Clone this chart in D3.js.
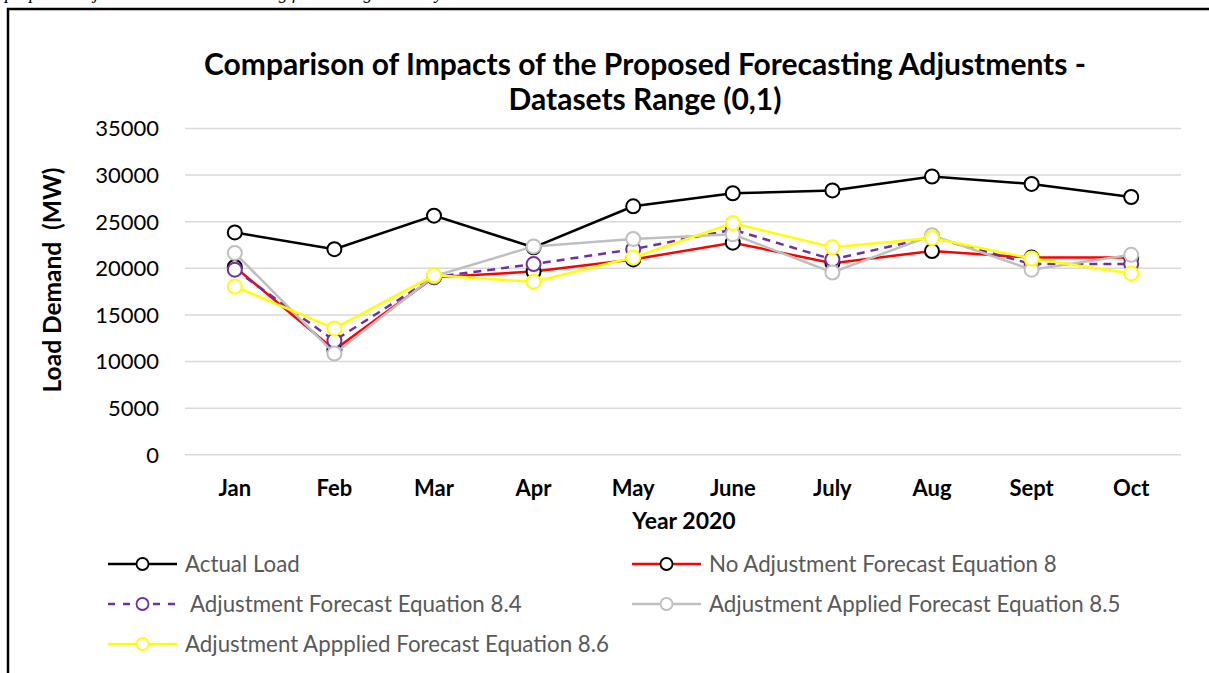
<!DOCTYPE html>
<html>
<head>
<meta charset="utf-8">
<script src="https://cdn.jsdelivr.net/npm/d3@7"></script>
<style>
  body { margin: 0; background: #fff; }
  svg { display: block; }
</style>
</head>
<body>
<div id="chart"></div>
<script>
// values
var months = ["Jan", "Feb", "Mar", "Apr", "May", "June", "July", "Aug", "Sept", "Oct"];
var actualLoad = [23800, 22000, 25600, 22200, 26600, 28000, 28300, 29800, 29000, 27600];
var noAdjEq8 = [20100, 11200, 19000, 19600, 20900, 22700, 20500, 21800, 21100, 21100];
var adjEq84 = [19800, 12200, 19000, 20400, 22000, 24100, 20900, 23300, 20400, 20400];
var adjEq85 = [21600, 10800, 19100, 22300, 23100, 23600, 19500, 23500, 19800, 21400];
var adjEq86 = [18000, 13500, 19200, 18500, 21100, 24800, 22200, 23200, 21000, 19400];
var yTicks = [0, 5000, 10000, 15000, 20000, 25000, 30000, 35000];

var seriesNames = [
    "Actual Load",
    "No Adjustment Forecast Equation 8",
    "Adjustment Forecast Equation 8.4",
    "Adjustment Applied Forecast Equation 8.5",
    "Adjustment Appplied Forecast Equation 8.6"
];

var width = 1209, height = 673;
var font = "Lato, 'Open Sans', sans-serif";

var series = [
    { name: seriesNames[0], values: actualLoad, color: "#000000", marker: "#000000", dash: null },
    { name: seriesNames[1], values: noAdjEq8, color: "#ff0000", marker: "#000000", dash: null },
    { name: seriesNames[2], values: adjEq84, color: "#7030a0", marker: "#7030a0", dash: "8,6" },
    { name: seriesNames[3], values: adjEq85, color: "#bfbfbf", marker: "#bfbfbf", dash: null },
    { name: seriesNames[4], values: adjEq86, color: "#ffff00", marker: "#ffff00", dash: null }
];

var svg = d3.select("#chart")
    .append("svg")
    .attr("width", width)
    .attr("height", height);

// cut-off caption line above the frame
svg.append("text")
    .attr("x", 5)
    .attr("y", -1)
    .attr("font-family", "'Liberation Serif', serif")
    .attr("font-style", "italic")
    .attr("font-size", 18)
    .text("proposed adjustments and the resulting forecasting accuracy");

// frame (right and bottom edges fall outside the picture)
svg.append("rect")
    .attr("x", 8)
    .attr("y", 9)
    .attr("width", width + 20)
    .attr("height", height + 20)
    .attr("fill", "none")
    .attr("stroke", "#000")
    .attr("stroke-width", 2.5);

var plot = { left: 185, right: 1181, top: 128, bottom: 454.3 };

var x = d3.scaleBand()
    .domain(months)
    .range([plot.left, plot.right]);

var y = d3.scaleLinear()
    .domain([0, 35000])
    .range([plot.bottom, plot.top]);

// y axis + gridlines
var yAxis = svg.append("g")
    .attr("transform", `translate(${plot.left},0)`)
    .call(d3.axisLeft(y)
        .tickValues(yTicks)
        .tickFormat(d3.format("d"))
        .tickSize(-(plot.right - plot.left))
        .tickPadding(26));
yAxis.select(".domain").remove();
yAxis.selectAll(".tick line")
    .attr("stroke", "#d9d9d9")
    .attr("stroke-width", 1.5);
yAxis.selectAll(".tick text")
    .attr("font-family", font)
    .attr("font-size", 22)
    .attr("fill", "#000")
    .attr("dy", "0.36em");

// x axis labels
var xAxis = svg.append("g")
    .attr("transform", `translate(0,${plot.bottom})`)
    .call(d3.axisBottom(x).tickSize(0).tickPadding(26));
xAxis.select(".domain").remove();
xAxis.selectAll(".tick text")
    .attr("font-family", font)
    .attr("font-size", 22)
    .attr("font-weight", "bold")
    .attr("fill", "#000");

// titles
var title = svg.append("text")
    .attr("text-anchor", "middle")
    .attr("font-family", font)
    .attr("font-size", 30)
    .attr("font-weight", "bold")
    .attr("fill", "#000");
title.append("tspan").attr("x", 645).attr("y", 75).text("Comparison of Impacts of the Proposed Forecasting Adjustments -");
title.append("tspan").attr("x", 645).attr("y", 110).text("Datasets Range (0,1)");

svg.append("text")
    .attr("x", 684)
    .attr("y", 529)
    .attr("text-anchor", "middle")
    .attr("font-family", font)
    .attr("font-size", 23)
    .attr("font-weight", "bold")
    .text("Year 2020");

svg.append("text")
    .attr("transform", "translate(61,280) rotate(-90)")
    .attr("text-anchor", "middle")
    .attr("font-family", font)
    .attr("font-size", 24.5)
    .attr("font-weight", "bold")
    .style("white-space", "pre")
    .text("Load Demand  (MW)");

// lines and markers
var line = d3.line()
    .x((d, i) => x(months[i]) + x.bandwidth() / 2)
    .y(d => y(d));

series.forEach(function (s) {
    var g = svg.append("g");
    g.append("path")
        .attr("d", line(s.values))
        .attr("fill", "none")
        .attr("stroke", s.color)
        .attr("stroke-width", 2.5)
        .attr("stroke-dasharray", s.dash);
    g.selectAll("circle")
        .data(s.values)
        .enter().append("circle")
        .attr("cx", (d, i) => x(months[i]) + x.bandwidth() / 2)
        .attr("cy", d => y(d))
        .attr("r", 7)
        .attr("fill", "#fff")
        .attr("stroke", s.marker)
        .attr("stroke-width", 2);
});

// legend
var legendPos = [
    { x: 108, y: 564 },
    { x: 632, y: 564 },
    { x: 108, y: 604 },
    { x: 632, y: 604 },
    { x: 108, y: 644 }
];

series.forEach(function (s, i) {
    var p = legendPos[i];
    var g = svg.append("g").attr("transform", `translate(${p.x},${p.y})`);
    g.append("line")
        .attr("x1", 0).attr("x2", 69)
        .attr("stroke", s.color)
        .attr("stroke-width", 2.5)
        .attr("stroke-dasharray", s.dash ? "7,8" : null);
    g.append("circle")
        .attr("cx", 34.5)
        .attr("r", 6)
        .attr("fill", "#fff")
        .attr("stroke", s.marker)
        .attr("stroke-width", 1.8);
    g.append("text")
        .attr("x", s.dash ? 82 : 77)
        .attr("y", 8)
        .attr("font-family", font)
        .attr("font-size", 22.3)
        .attr("fill", "#595959")
        .text(s.name);
});
</script>
</body>
</html>
